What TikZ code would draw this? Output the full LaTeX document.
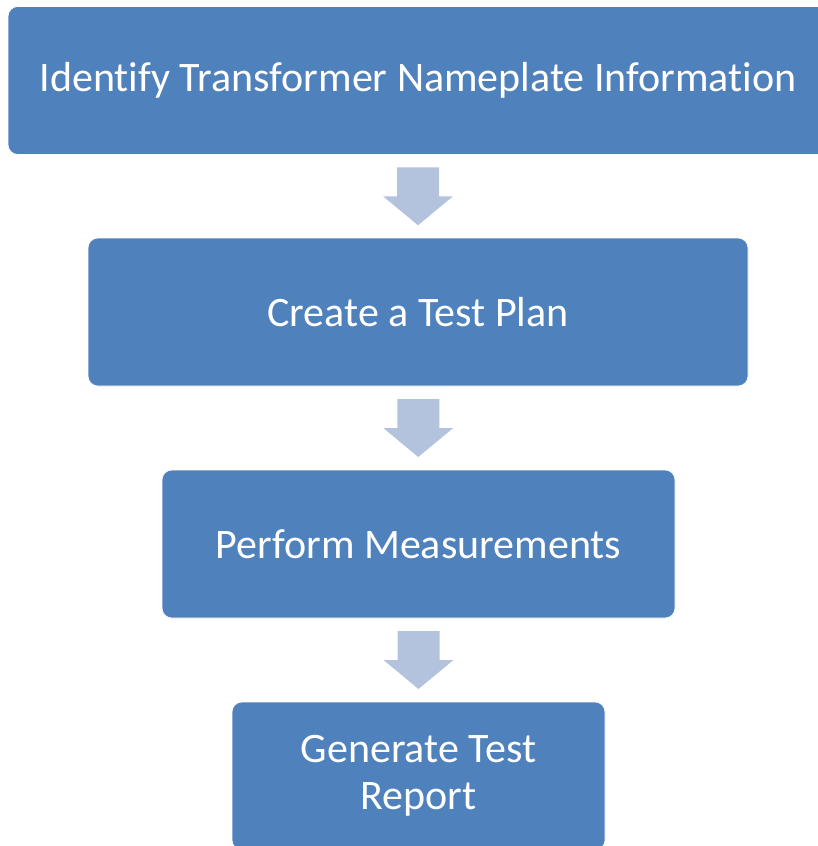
\documentclass[tikz,border=0pt]{standalone}
\usepackage{fontspec}
\setmainfont{Carlito}[Ligatures=NoCommon]
\usetikzlibrary{calc}
\definecolor{boxblue}{RGB}{79,129,189}
\definecolor{arrowblue}{RGB}{179,195,221}
\tikzset{
  stepbox/.style={rectangle, rounded corners=10pt, fill=boxblue, draw=white, line width=0.6pt,
    text=white, font=\fontsize{42}{47}\selectfont, align=center, minimum height=148pt, inner sep=0pt},
  arrowfill/.style={fill=arrowblue}
}
\newcommand\blockarrow[2]{%
  \coordinate (m) at ($(#1.south)!0.5!(#2.north)$);
  \fill[arrowfill] ([shift={(-21,-29)}]m) -- ([shift={(21,-29)}]m) -- ([shift={(21,0)}]m)
    -- ([shift={(35,0)}]m) -- ([shift={(0,29)}]m) -- ([shift={(-35,0)}]m) -- ([shift={(-21,0)}]m) -- cycle;
}
\begin{document}
\begin{tikzpicture}[x=1pt,y=-1pt]
\useasboundingbox[fill=white] (0,0) rectangle (817,846);
\node[stepbox, minimum width=820pt] (a) at (418,80.5) {Identify Transformer Nameplate Information};
\node[stepbox, minimum width=660pt] (b) at (418,312) {Create a Test Plan};
\node[stepbox, minimum width=513pt] (c) at (418.5,544) {Perform Measurements};
\node[stepbox, minimum width=373pt] (d) at (418.5,776) {Generate Test\\Report};
\blockarrow{a}{b}
\blockarrow{b}{c}
\blockarrow{c}{d}
\end{tikzpicture}
\end{document}
